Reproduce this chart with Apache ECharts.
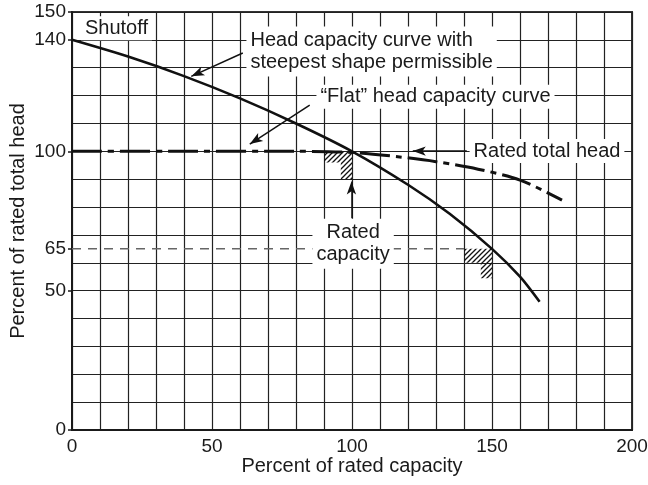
<!DOCTYPE html>
<html lang="en">
<head>
  <meta charset="UTF-8">
  <title>Head capacity curves</title>
  <style>
    html, body { margin: 0; padding: 0; background: #fff; }
    #chart { width: 648px; height: 485px; }
  </style>
</head>
<body>
  <div id="chart"></div>
  <script src="https://cdn.jsdelivr.net/npm/echarts/dist/echarts.min.js"></script>
  <script>
    // values (x = % of rated capacity, y = % of rated total head)
    var steepCurve = [[0, 140], [20, 134], [40, 127], [60, 119], [80, 110], [100, 100],
      [120, 88], [135, 77.5], [150, 65], [160, 55], [167, 46]];
    var flatCurve = [[0, 100], [40, 100], [80, 100], [100, 99.6], [117, 98], [130, 96.3],
      [145, 93.6], [160, 89.7], [175, 82.5]];
    var ratedHead65 = [[0, 65], [140, 65]];
    // tolerance areas (hatched) at the two rated points
    var hatchAt100 = [[90, 100], [100, 100], [100, 90], [96, 90], [96, 96], [90, 96]];
    var hatchAt150 = [[140, 65], [150, 65], [150, 54.5], [146, 54.5], [146, 60], [140, 60]];
    var hatches = [hatchAt100, hatchAt150];
    var xTickLabels = [0, 50, 100, 150, 200];
    var yTickLabels = [0, 50, 65, 100, 140, 150];

    var FONT = '"Liberation Sans", Arial, Helvetica, sans-serif';
    var INK = '#1a1a1a';

    // diagonal hatch pattern
    var pat = document.createElement('canvas');
    pat.width = 5; pat.height = 5;
    var pc = pat.getContext('2d');
    pc.strokeStyle = '#111';
    pc.lineWidth = 1.3;
    pc.beginPath();
    pc.moveTo(0, 5); pc.lineTo(5, 0);
    pc.moveTo(-1, 1); pc.lineTo(1, -1);
    pc.moveTo(4, 6); pc.lineTo(6, 4);
    pc.stroke();

    var myChart = echarts.init(document.getElementById('chart'));

    var option = {
      animation: false,
      grid: {
        left: 72, right: 16, top: 12, bottom: 55,
        outerBoundsMode: 'none', containLabel: false,
        show: true, borderColor: '#333', borderWidth: 2
      },
      xAxis: {
        type: 'value', min: 0, max: 200, interval: 10,
        name: 'Percent of rated capacity',
        nameLocation: 'middle', nameGap: 26, nameMoveOverlap: false,
        nameTextStyle: { fontSize: 20, color: INK, fontFamily: FONT },
        axisLine: { show: true, lineStyle: { color: INK, width: 2 } },
        axisTick: { show: false },
        axisLabel: {
          fontSize: 19, color: INK, fontFamily: FONT, margin: 7,
          formatter: function (v) { return xTickLabels.indexOf(v) >= 0 ? String(v) : ''; }
        },
        splitLine: { show: true, lineStyle: { color: '#222', width: 1.2 } }
      },
      yAxis: [{
        type: 'value', min: 0, max: 150, interval: 10,
        axisLine: { show: true, lineStyle: { color: INK, width: 2 } },
        axisTick: { show: false },
        axisLabel: { show: false },
        splitLine: { show: true, lineStyle: { color: '#222', width: 1.2 } }
      }, {
        type: 'value', min: 0, max: 150, position: 'left',
        name: 'Percent of rated total head',
        nameLocation: 'middle', nameGap: 44, nameMoveOverlap: false,
        nameTextStyle: { fontSize: 20, color: INK, fontFamily: FONT },
        axisLine: { show: false },
        axisTick: { show: true, length: 4, customValues: yTickLabels, lineStyle: { color: INK, width: 1.5 } },
        axisLabel: { fontSize: 19, color: INK, fontFamily: FONT, margin: 6, customValues: yTickLabels },
        splitLine: { show: false }
      }],
      series: [{
        name: 'hatch',
        type: 'custom',
        silent: true,
        z: 3,
        data: [[0, 0], [1, 0]],
        renderItem: function (params, api) {
          var pts = hatches[params.dataIndex].map(function (p) { return api.coord(p); });
          return {
            type: 'polygon',
            shape: { points: pts },
            style: { fill: { image: pat, repeat: 'repeat' }, stroke: null }
          };
        }
      }, {
        name: 'rated 65',
        type: 'line',
        data: ratedHead65,
        symbol: 'none',
        silent: true,
        z: 2,
        lineStyle: { color: '#666', width: 1.5, type: [9, 7] }
      }, {
        name: 'flat',
        type: 'line',
        data: flatCurve,
        smooth: 0.3,
        symbol: 'none',
        z: 4,
        lineStyle: { color: '#111', width: 3, type: [30, 6, 6, 6] }
      }, {
        name: 'steep',
        type: 'line',
        data: steepCurve,
        smooth: 0.25,
        symbol: 'none',
        z: 5,
        lineStyle: { color: '#111', width: 2.6 }
      }, {
        name: 'arrows',
        type: 'line',
        data: [],
        z: 6,
        markLine: {
          silent: true,
          animation: false,
          symbolSize: [7, 13],
          label: { show: false },
          lineStyle: { color: '#111', width: 1.5, type: 'solid' },
          data: [
            [{ coord: [61, 135.3], symbol: 'none' }, { coord: [42.6, 126.9], symbol: 'arrow' }],
            [{ coord: [84.9, 116.6], symbol: 'none' }, { coord: [63.5, 102.6], symbol: 'arrow' }],
            [{ coord: [141, 100.1], symbol: 'none' }, { coord: [121.7, 100.1], symbol: 'arrow' }],
            [{ coord: [99.8, 76], symbol: 'none' }, { coord: [99.8, 89.2], symbol: 'arrow' }]
          ]
        }
      }]
    };
    myChart.setOption(option);

    // text notes placed at data positions, white box hides the grid behind them
    function note(text, at, align, extra) {
      var p = myChart.convertToPixel({ xAxisIndex: 0, yAxisIndex: 0 }, at);
      return {
        type: 'text', x: p[0], y: p[1], z: 100,
        style: Object.assign({
          text: text, fill: INK, font: '20px ' + FONT,
          align: align, verticalAlign: 'middle',
          backgroundColor: '#fff', padding: [1, 4], lineHeight: 22
        }, extra || {})
      };
    }
    myChart.setOption({
      graphic: [
        note('Shutoff', [3.2, 144.2], 'left'),
        note('Head capacity curve with\nsteepest shape permissible', [62.3, 135.8], 'left', { padding: [3, 4] }),
        note('\u201cFlat\u201d head capacity curve', [87.3, 119.6], 'left'),
        note('Rated total head', [142, 100.1], 'left'),
        note('Rated\ncapacity', [100.4, 66.8], 'center', { padding: [3, 4] })
      ]
    });
  </script>
</body>
</html>
